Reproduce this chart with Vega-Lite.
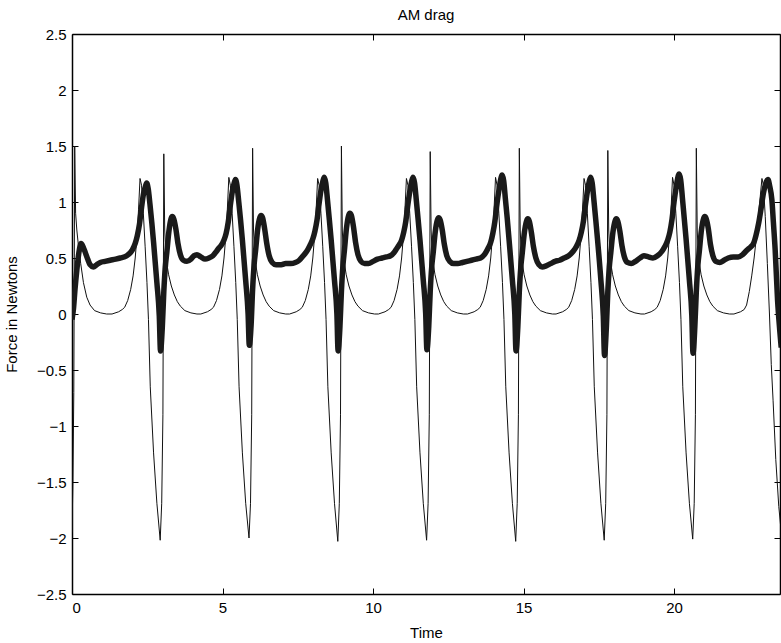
{
  "$schema": "https://vega.github.io/schema/vega-lite/v6.json",
  "width": 708,
  "height": 560,
  "autosize": {"type": "none"},
  "padding": {"left": 72, "top": 34, "right": 1, "bottom": 49},
  "background": "white",
  "title": {"text": "AM drag", "font": "Liberation Sans", "fontSize": 15, "fontWeight": "normal", "color": "black", "offset": 4},
  "config": {
    "view": {"stroke": null},
    "axis": {
      "grid": false,
      "domainColor": "black",
      "domainWidth": 1.5,
      "tickColor": "black",
      "tickWidth": 1,
      "tickSize": -6,
      "labelPadding": 12,
      "labelFont": "Liberation Sans",
      "labelFontSize": 15,
      "labelColor": "black",
      "titleFont": "Liberation Sans",
      "titleFontSize": 15,
      "titleFontWeight": "normal",
      "titleColor": "black"
    }
  },
  "datasets": {
    "thin": [
      {"t":0.0,"f":-1.95},{"t":0.03,"f":-1.5},{"t":0.06,"f":-0.7},{"t":0.09,"f":1.5},{"t":0.12,"f":0.9},{"t":0.16,"f":0.75},{"t":0.21,"f":0.62},{"t":0.29,"f":0.45},{"t":0.38,"f":0.28},{"t":0.49,"f":0.15},{"t":0.6,"f":0.08},{"t":0.75,"f":0.03},{"t":0.95,"f":0.01},{"t":1.15,"f":0.0},
      {"t":1.33,"f":0.0},{"t":1.55,"f":0.02},{"t":1.67,"f":0.04},{"t":1.75,"f":0.06},{"t":1.85,"f":0.12},{"t":1.95,"f":0.22},{"t":2.03,"f":0.34},{"t":2.10,"f":0.5},{"t":2.16,"f":0.7},{"t":2.21,"f":0.93},{"t":2.26,"f":1.21},{"t":2.31,"f":1.15},{"t":2.37,"f":0.9},{"t":2.43,"f":0.6},{"t":2.49,"f":0.28},{"t":2.54,"f":-0.05},{"t":2.60,"f":-0.65},{"t":2.71,"f":-1.24},{"t":2.82,"f":-1.69},{"t":2.93,"f":-2.02},{"t":2.98,"f":-1.69},{"t":3.02,"f":-0.9},{"t":3.05,"f":1.43},{"t":3.08,"f":0.75},{"t":3.12,"f":0.5},{"t":3.21,"f":0.35},{"t":3.30,"f":0.25},{"t":3.40,"f":0.17},{"t":3.50,"f":0.11},{"t":3.60,"f":0.07},{"t":3.75,"f":0.03},{"t":3.95,"f":0.01},{"t":4.15,"f":0.0},
      {"t":4.28,"f":0.0},{"t":4.50,"f":0.02},{"t":4.62,"f":0.04},{"t":4.70,"f":0.06},{"t":4.80,"f":0.12},{"t":4.90,"f":0.22},{"t":4.98,"f":0.34},{"t":5.05,"f":0.5},{"t":5.11,"f":0.7},{"t":5.16,"f":0.93},{"t":5.21,"f":1.22},{"t":5.26,"f":1.15},{"t":5.32,"f":0.9},{"t":5.38,"f":0.6},{"t":5.44,"f":0.28},{"t":5.49,"f":-0.05},{"t":5.55,"f":-0.65},{"t":5.66,"f":-1.24},{"t":5.77,"f":-1.69},{"t":5.88,"f":-2.0},{"t":5.93,"f":-1.69},{"t":5.97,"f":-0.9},{"t":6.00,"f":1.48},{"t":6.03,"f":0.75},{"t":6.07,"f":0.5},{"t":6.16,"f":0.35},{"t":6.25,"f":0.25},{"t":6.35,"f":0.17},{"t":6.45,"f":0.11},{"t":6.55,"f":0.07},{"t":6.70,"f":0.03},{"t":6.90,"f":0.01},{"t":7.10,"f":0.0},
      {"t":7.23,"f":0.0},{"t":7.45,"f":0.02},{"t":7.57,"f":0.04},{"t":7.65,"f":0.06},{"t":7.75,"f":0.12},{"t":7.85,"f":0.22},{"t":7.93,"f":0.34},{"t":8.00,"f":0.5},{"t":8.06,"f":0.7},{"t":8.11,"f":0.93},{"t":8.16,"f":1.21},{"t":8.21,"f":1.15},{"t":8.27,"f":0.9},{"t":8.33,"f":0.6},{"t":8.39,"f":0.28},{"t":8.44,"f":-0.05},{"t":8.50,"f":-0.65},{"t":8.61,"f":-1.24},{"t":8.72,"f":-1.69},{"t":8.83,"f":-2.03},{"t":8.88,"f":-1.69},{"t":8.92,"f":-0.9},{"t":8.95,"f":1.5},{"t":8.98,"f":0.75},{"t":9.02,"f":0.5},{"t":9.11,"f":0.35},{"t":9.20,"f":0.25},{"t":9.30,"f":0.17},{"t":9.40,"f":0.11},{"t":9.50,"f":0.07},{"t":9.65,"f":0.03},{"t":9.85,"f":0.01},{"t":10.05,"f":0.0},
      {"t":10.18,"f":0.0},{"t":10.40,"f":0.02},{"t":10.52,"f":0.04},{"t":10.60,"f":0.06},{"t":10.70,"f":0.12},{"t":10.80,"f":0.22},{"t":10.88,"f":0.34},{"t":10.95,"f":0.5},{"t":11.01,"f":0.7},{"t":11.06,"f":0.93},{"t":11.11,"f":1.21},{"t":11.16,"f":1.15},{"t":11.22,"f":0.9},{"t":11.28,"f":0.6},{"t":11.34,"f":0.28},{"t":11.39,"f":-0.05},{"t":11.45,"f":-0.65},{"t":11.56,"f":-1.24},{"t":11.67,"f":-1.69},{"t":11.78,"f":-2.02},{"t":11.83,"f":-1.69},{"t":11.87,"f":-0.9},{"t":11.90,"f":1.45},{"t":11.93,"f":0.75},{"t":11.97,"f":0.5},{"t":12.06,"f":0.35},{"t":12.15,"f":0.25},{"t":12.25,"f":0.17},{"t":12.35,"f":0.11},{"t":12.45,"f":0.07},{"t":12.60,"f":0.03},{"t":12.80,"f":0.01},{"t":13.00,"f":0.0},
      {"t":13.14,"f":0.0},{"t":13.36,"f":0.02},{"t":13.48,"f":0.04},{"t":13.56,"f":0.06},{"t":13.66,"f":0.12},{"t":13.76,"f":0.22},{"t":13.84,"f":0.34},{"t":13.91,"f":0.5},{"t":13.97,"f":0.7},{"t":14.02,"f":0.93},{"t":14.07,"f":1.22},{"t":14.12,"f":1.15},{"t":14.18,"f":0.9},{"t":14.24,"f":0.6},{"t":14.30,"f":0.28},{"t":14.35,"f":-0.05},{"t":14.41,"f":-0.65},{"t":14.52,"f":-1.24},{"t":14.63,"f":-1.69},{"t":14.74,"f":-2.03},{"t":14.79,"f":-1.69},{"t":14.83,"f":-0.9},{"t":14.86,"f":1.48},{"t":14.89,"f":0.75},{"t":14.93,"f":0.5},{"t":15.02,"f":0.35},{"t":15.11,"f":0.25},{"t":15.21,"f":0.17},{"t":15.31,"f":0.11},{"t":15.41,"f":0.07},{"t":15.56,"f":0.03},{"t":15.76,"f":0.01},{"t":15.96,"f":0.0},
      {"t":16.08,"f":0.0},{"t":16.30,"f":0.02},{"t":16.42,"f":0.04},{"t":16.50,"f":0.06},{"t":16.60,"f":0.12},{"t":16.70,"f":0.22},{"t":16.78,"f":0.34},{"t":16.85,"f":0.5},{"t":16.91,"f":0.7},{"t":16.96,"f":0.93},{"t":17.01,"f":1.21},{"t":17.06,"f":1.15},{"t":17.12,"f":0.9},{"t":17.18,"f":0.6},{"t":17.24,"f":0.28},{"t":17.29,"f":-0.05},{"t":17.35,"f":-0.65},{"t":17.46,"f":-1.24},{"t":17.57,"f":-1.69},{"t":17.68,"f":-2.02},{"t":17.73,"f":-1.69},{"t":17.77,"f":-0.9},{"t":17.80,"f":1.46},{"t":17.83,"f":0.75},{"t":17.87,"f":0.5},{"t":17.96,"f":0.35},{"t":18.05,"f":0.25},{"t":18.15,"f":0.17},{"t":18.25,"f":0.11},{"t":18.35,"f":0.07},{"t":18.50,"f":0.03},{"t":18.70,"f":0.01},{"t":18.90,"f":0.0},
      {"t":19.02,"f":0.0},{"t":19.24,"f":0.02},{"t":19.36,"f":0.04},{"t":19.44,"f":0.06},{"t":19.54,"f":0.12},{"t":19.64,"f":0.22},{"t":19.72,"f":0.34},{"t":19.79,"f":0.5},{"t":19.85,"f":0.7},{"t":19.90,"f":0.93},{"t":19.95,"f":1.22},{"t":20.00,"f":1.15},{"t":20.06,"f":0.9},{"t":20.12,"f":0.6},{"t":20.18,"f":0.28},{"t":20.23,"f":-0.05},{"t":20.29,"f":-0.65},{"t":20.40,"f":-1.24},{"t":20.51,"f":-1.69},{"t":20.62,"f":-2.01},{"t":20.67,"f":-1.69},{"t":20.71,"f":-0.9},{"t":20.74,"f":1.48},{"t":20.77,"f":0.75},{"t":20.81,"f":0.5},{"t":20.90,"f":0.35},{"t":20.99,"f":0.25},{"t":21.09,"f":0.17},{"t":21.19,"f":0.11},{"t":21.29,"f":0.07},{"t":21.44,"f":0.03},{"t":21.64,"f":0.01},{"t":21.84,"f":0.0},
      {"t":21.99,"f":0.0},{"t":22.21,"f":0.02},{"t":22.33,"f":0.04},{"t":22.41,"f":0.08},{"t":22.50,"f":0.2},{"t":22.58,"f":0.34},{"t":22.66,"f":0.5},{"t":22.75,"f":0.72},{"t":22.84,"f":0.98},{"t":22.92,"f":1.21},{"t":22.97,"f":1.15},{"t":23.03,"f":0.87},{"t":23.10,"f":0.45},{"t":23.17,"f":0.0},{"t":23.23,"f":-0.45},{"t":23.29,"f":-0.77},{"t":23.38,"f":-1.3},{"t":23.48,"f":-1.72},{"t":23.58,"f":-2.0}
    ],
    "thick": [
      {"t":0.0,"f":-0.05},{"t":0.05,"f":0.05},{"t":0.1,"f":0.22},{"t":0.16,"f":0.39},{"t":0.23,"f":0.55},{"t":0.3,"f":0.63},{"t":0.37,"f":0.6},{"t":0.44,"f":0.55},{"t":0.52,"f":0.49},{"t":0.6,"f":0.44},{"t":0.71,"f":0.42},{"t":0.82,"f":0.44},{"t":0.94,"f":0.46},{"t":1.1,"f":0.47},{"t":1.27,"f":0.48},{"t":1.45,"f":0.49},{"t":1.6,"f":0.5},{"t":1.82,"f":0.52},
      {"t":2.00,"f":0.57},{"t":2.10,"f":0.63},{"t":2.17,"f":0.70},{"t":2.24,"f":0.80},{"t":2.31,"f":0.95},{"t":2.38,"f":1.08},{"t":2.43,"f":1.13},{"t":2.48,"f":1.17},{"t":2.53,"f":1.12},{"t":2.59,"f":0.98},{"t":2.65,"f":0.82},{"t":2.71,"f":0.64},{"t":2.82,"f":0.28},{"t":2.90,"f":-0.02},{"t":2.94,"f":-0.33},{"t":3.00,"f":-0.12},{"t":3.05,"f":0.20},{"t":3.10,"f":0.42},{"t":3.15,"f":0.55},{"t":3.22,"f":0.74},{"t":3.29,"f":0.85},{"t":3.33,"f":0.87},{"t":3.38,"f":0.85},{"t":3.45,"f":0.76},{"t":3.52,"f":0.63},{"t":3.60,"f":0.53},{"t":3.70,"f":0.48},{"t":3.82,"f":0.47},{"t":3.95,"f":0.49},{"t":4.05,"f":0.52},{"t":4.15,"f":0.53},{"t":4.28,"f":0.51},{"t":4.42,"f":0.49},{"t":4.55,"f":0.5},{"t":4.68,"f":0.52},{"t":4.80,"f":0.56},{"t":4.88,"f":0.59},
      {"t":4.95,"f":0.61},{"t":5.05,"f":0.66},{"t":5.12,"f":0.72},{"t":5.19,"f":0.82},{"t":5.26,"f":0.97},{"t":5.33,"f":1.10},{"t":5.38,"f":1.16},{"t":5.43,"f":1.20},{"t":5.48,"f":1.15},{"t":5.54,"f":1.0},{"t":5.60,"f":0.84},{"t":5.66,"f":0.66},{"t":5.77,"f":0.3},{"t":5.85,"f":0.0},{"t":5.89,"f":-0.28},{"t":5.95,"f":-0.1},{"t":6.00,"f":0.22},{"t":6.05,"f":0.44},{"t":6.10,"f":0.57},{"t":6.17,"f":0.76},{"t":6.24,"f":0.86},{"t":6.28,"f":0.88},{"t":6.33,"f":0.86},{"t":6.40,"f":0.76},{"t":6.47,"f":0.63},{"t":6.55,"f":0.52},{"t":6.65,"f":0.46},{"t":6.78,"f":0.44},{"t":6.95,"f":0.44},{"t":7.10,"f":0.45},{"t":7.27,"f":0.45},{"t":7.42,"f":0.46},{"t":7.55,"f":0.48},{"t":7.68,"f":0.52},{"t":7.80,"f":0.56},
      {"t":7.90,"f":0.61},{"t":8.00,"f":0.67},{"t":8.07,"f":0.74},{"t":8.14,"f":0.84},{"t":8.21,"f":0.99},{"t":8.28,"f":1.12},{"t":8.33,"f":1.18},{"t":8.38,"f":1.22},{"t":8.43,"f":1.17},{"t":8.49,"f":1.01},{"t":8.55,"f":0.84},{"t":8.61,"f":0.66},{"t":8.72,"f":0.3},{"t":8.80,"f":0.0},{"t":8.84,"f":-0.33},{"t":8.90,"f":-0.12},{"t":8.95,"f":0.2},{"t":9.00,"f":0.43},{"t":9.05,"f":0.57},{"t":9.12,"f":0.77},{"t":9.19,"f":0.88},{"t":9.23,"f":0.9},{"t":9.28,"f":0.88},{"t":9.35,"f":0.78},{"t":9.42,"f":0.64},{"t":9.50,"f":0.53},{"t":9.60,"f":0.47},{"t":9.72,"f":0.45},{"t":9.85,"f":0.45},{"t":10.00,"f":0.47},{"t":10.15,"f":0.49},{"t":10.30,"f":0.5},{"t":10.45,"f":0.51},{"t":10.58,"f":0.52},{"t":10.70,"f":0.55},{"t":10.80,"f":0.59},
      {"t":10.85,"f":0.61},{"t":10.95,"f":0.66},{"t":11.02,"f":0.73},{"t":11.09,"f":0.83},{"t":11.16,"f":0.98},{"t":11.23,"f":1.11},{"t":11.28,"f":1.18},{"t":11.33,"f":1.22},{"t":11.38,"f":1.17},{"t":11.44,"f":1.01},{"t":11.50,"f":0.84},{"t":11.56,"f":0.66},{"t":11.67,"f":0.3},{"t":11.75,"f":0.0},{"t":11.79,"f":-0.32},{"t":11.85,"f":-0.12},{"t":11.90,"f":0.2},{"t":11.95,"f":0.42},{"t":12.00,"f":0.55},{"t":12.07,"f":0.74},{"t":12.14,"f":0.84},{"t":12.18,"f":0.86},{"t":12.23,"f":0.84},{"t":12.30,"f":0.75},{"t":12.37,"f":0.62},{"t":12.45,"f":0.52},{"t":12.55,"f":0.47},{"t":12.68,"f":0.45},{"t":12.82,"f":0.45},{"t":12.97,"f":0.46},{"t":13.12,"f":0.47},{"t":13.27,"f":0.48},{"t":13.42,"f":0.49},{"t":13.57,"f":0.5},{"t":13.70,"f":0.53},
      {"t":13.81,"f":0.58},{"t":13.91,"f":0.64},{"t":13.98,"f":0.72},{"t":14.05,"f":0.83},{"t":14.12,"f":0.99},{"t":14.19,"f":1.12},{"t":14.24,"f":1.2},{"t":14.29,"f":1.24},{"t":14.34,"f":1.19},{"t":14.40,"f":1.02},{"t":14.46,"f":0.85},{"t":14.52,"f":0.66},{"t":14.63,"f":0.3},{"t":14.71,"f":0.0},{"t":14.75,"f":-0.33},{"t":14.81,"f":-0.12},{"t":14.86,"f":0.2},{"t":14.91,"f":0.42},{"t":14.96,"f":0.55},{"t":15.03,"f":0.73},{"t":15.10,"f":0.83},{"t":15.14,"f":0.85},{"t":15.19,"f":0.83},{"t":15.26,"f":0.73},{"t":15.33,"f":0.6},{"t":15.41,"f":0.5},{"t":15.51,"f":0.44},{"t":15.62,"f":0.42},{"t":15.75,"f":0.43},{"t":15.90,"f":0.45},{"t":16.05,"f":0.47},{"t":16.20,"f":0.48},{"t":16.35,"f":0.5},{"t":16.50,"f":0.52},{"t":16.65,"f":0.56},
      {"t":16.75,"f":0.6},{"t":16.85,"f":0.66},{"t":16.92,"f":0.73},{"t":16.99,"f":0.83},{"t":17.06,"f":0.98},{"t":17.13,"f":1.11},{"t":17.18,"f":1.18},{"t":17.23,"f":1.22},{"t":17.28,"f":1.17},{"t":17.34,"f":1.01},{"t":17.40,"f":0.84},{"t":17.46,"f":0.66},{"t":17.57,"f":0.3},{"t":17.65,"f":-0.02},{"t":17.69,"f":-0.37},{"t":17.75,"f":-0.13},{"t":17.80,"f":0.2},{"t":17.85,"f":0.42},{"t":17.90,"f":0.55},{"t":17.97,"f":0.73},{"t":18.04,"f":0.83},{"t":18.08,"f":0.85},{"t":18.13,"f":0.83},{"t":18.20,"f":0.74},{"t":18.27,"f":0.61},{"t":18.35,"f":0.51},{"t":18.45,"f":0.46},{"t":18.58,"f":0.45},{"t":18.72,"f":0.47},{"t":18.87,"f":0.5},{"t":19.00,"f":0.52},{"t":19.15,"f":0.51},{"t":19.30,"f":0.5},{"t":19.45,"f":0.52},{"t":19.60,"f":0.56},
      {"t":19.69,"f":0.6},{"t":19.79,"f":0.66},{"t":19.86,"f":0.73},{"t":19.93,"f":0.84},{"t":20.00,"f":1.0},{"t":20.07,"f":1.13},{"t":20.12,"f":1.21},{"t":20.17,"f":1.25},{"t":20.22,"f":1.2},{"t":20.28,"f":1.03},{"t":20.34,"f":0.85},{"t":20.40,"f":0.67},{"t":20.51,"f":0.3},{"t":20.59,"f":-0.01},{"t":20.63,"f":-0.35},{"t":20.69,"f":-0.12},{"t":20.74,"f":0.2},{"t":20.79,"f":0.43},{"t":20.84,"f":0.56},{"t":20.91,"f":0.75},{"t":20.98,"f":0.85},{"t":21.02,"f":0.87},{"t":21.07,"f":0.85},{"t":21.14,"f":0.76},{"t":21.21,"f":0.62},{"t":21.29,"f":0.52},{"t":21.39,"f":0.47},
      {"t":21.52,"f":0.46},{"t":21.66,"f":0.48},{"t":21.80,"f":0.5},{"t":21.97,"f":0.51},{"t":22.13,"f":0.51},{"t":22.28,"f":0.53},{"t":22.42,"f":0.57},{"t":22.55,"f":0.6},{"t":22.64,"f":0.63},{"t":22.72,"f":0.7},{"t":22.81,"f":0.81},{"t":22.89,"f":0.94},{"t":22.97,"f":1.08},{"t":23.04,"f":1.16},{"t":23.12,"f":1.2},{"t":23.18,"f":1.14},{"t":23.25,"f":1.02},{"t":23.30,"f":0.82},{"t":23.36,"f":0.57},{"t":23.44,"f":0.12},{"t":23.51,"f":-0.14},{"t":23.56,"f":-0.3}
    ]
  },
  "resolve": {"axis": {"x": "independent", "y": "independent"}},
  "layer": [
    {
      "mark": {"type": "rule", "color": "#111111", "strokeWidth": 1.2, "strokeDash": [12, 2]},
      "encoding": {
        "y": {"datum": 0, "type": "quantitative", "scale": {"domain": [-2.5, 2.5], "nice": false, "zero": false}, "axis": null}
      }
    },
    {
      "data": {"name": "thin"},
      "mark": {"type": "line", "color": "#111111", "strokeWidth": 1, "clip": true},
      "encoding": {
        "x": {"field": "t", "type": "quantitative", "scale": {"domain": [0, 23.52], "nice": false, "zero": false},
              "axis": {"orient": "bottom", "title": "Time", "values": [0, 5, 10, 15, 20], "titlePadding": 10}},
        "y": {"field": "f", "type": "quantitative", "scale": {"domain": [-2.5, 2.5], "nice": false, "zero": false},
              "axis": {"orient": "left", "title": "Force in Newtons", "values": [-2.5, -2, -1.5, -1, -0.5, 0, 0.5, 1, 1.5, 2, 2.5], "format": "~g", "titlePadding": 17}}
      }
    },
    {
      "data": {"name": "thick"},
      "mark": {"type": "line", "color": "#1a1a1a", "strokeWidth": 5.5, "interpolate": "monotone", "strokeJoin": "round", "clip": true},
      "encoding": {
        "x": {"field": "t", "type": "quantitative", "scale": {"domain": [0, 23.52], "nice": false, "zero": false},
              "axis": {"orient": "top", "title": null, "labels": false, "values": [0, 5, 10, 15, 20]}},
        "y": {"field": "f", "type": "quantitative", "scale": {"domain": [-2.5, 2.5], "nice": false, "zero": false},
              "axis": {"orient": "right", "title": null, "labels": false, "values": [-2.5, -2, -1.5, -1, -0.5, 0, 0.5, 1, 1.5, 2, 2.5]}}
      }
    }
  ]
}
